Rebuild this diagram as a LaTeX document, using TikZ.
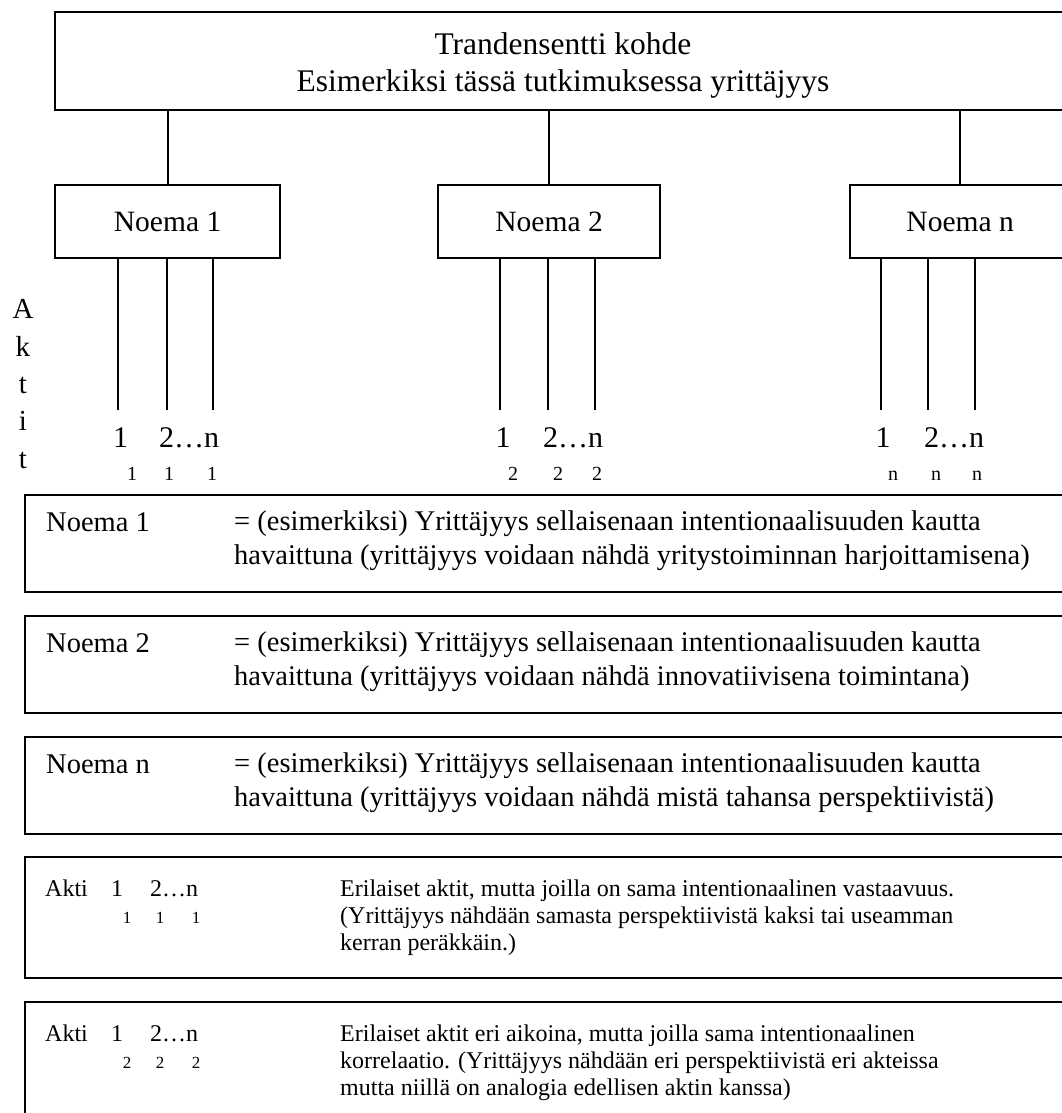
\documentclass[tikz,border=0pt]{standalone}
\usepackage{fontspec}
\setmainfont{Liberation Serif}
\newcommand\setfs[2]{\fontsize{#1}{#2}\selectfont}
\begin{document}
\begin{tikzpicture}[x=1pt,y=-1pt,
  bx/.style={draw, line width=2.2pt, rectangle, inner sep=0pt, anchor=north west},
  ln/.style={line width=2pt},
  tl/.style={inner sep=0pt, anchor=base west},
  tc/.style={inner sep=0pt, anchor=base},
  tnw/.style={inner sep=0pt, anchor=north west, align=left},
  big/.style={font=\setfs{31.5}{37}},
  mid/.style={font=\setfs{29.5}{35}},
  lab/.style={font=\setfs{30}{36}},
  sub/.style={font=\setfs{20}{24}},
  desc/.style={font=\setfs{28.5}{34}},
  akt/.style={font=\setfs{24}{27}},
  asub/.style={font=\setfs{17}{20}},
]
\useasboundingbox (0,0) rectangle (1062,1113);
\fill[white] (0,0) rectangle (1062,1113);

% top box
\node[bx, minimum width=1018pt, minimum height=98pt] (top) at (54,11) {};
\node[big, inner sep=0pt, align=center] (toptext) at (563,65) {Trandensentti kohde\\Esimerkiksi tässä tutkimuksessa yrittäjyys};

% noema boxes
\node[bx, mid, minimum width=225pt, minimum height=73pt] (n1) at (54,184) {Noema 1};
\node[bx, mid, minimum width=222pt, minimum height=73pt] (n2) at (437,184) {Noema 2};
\node[bx, mid, minimum width=220pt, minimum height=73pt] (nn) at (849,184) {Noema n};

\draw[ln] (top.south -| n1.north) -- (n1.north);
\draw[ln] (top.south -| n2.north) -- (n2.north);
\draw[ln] (top.south -| nn.north) -- (nn.north);

% act lines
\coordinate (e11) at (118,410);
\coordinate (e12) at (166.5,410);
\coordinate (e13) at (213,410);
\coordinate (e21) at (500,410);
\coordinate (e22) at (548,410);
\coordinate (e23) at (595,410);
\coordinate (e31) at (881,410);
\coordinate (e32) at (928,410);
\coordinate (e33) at (975,410);
\foreach \g/\b in {1/n1,2/n2,3/nn}{
  \foreach \i in {1,2,3}{
    \draw[ln] (\b.south -| e\g\i) -- (e\g\i);
  }
}

% act labels
\node[lab,tc] (l11) at (120.5,447) {1};
\node[lab,tl] (l12) at (159,447) {2…n};
\node[sub,tc] (s11) at (132,480) {1};
\node[sub,tc] (s12) at (169,480) {1};
\node[sub,tc] (s13) at (212,480) {1};

\node[lab,tc] (l21) at (503,447) {1};
\node[lab,tl] (l22) at (543,447) {2…n};
\node[sub,tc] (s21) at (513,480) {2};
\node[sub,tc] (s22) at (558,480) {2};
\node[sub,tc] (s23) at (597,480) {2};

\node[lab,tc] (l31) at (883,447) {1};
\node[lab,tl] (l32) at (924,447) {2…n};
\node[sub,tc] (s31) at (893,480) {n};
\node[sub,tc] (s32) at (936,480) {n};
\node[sub,tc] (s33) at (977,480) {n};

% vertical Aktit
\node[inner sep=0pt, anchor=north, align=center, font=\setfs{29}{37.3}] (aktit) at (23,299.5) {A\\k\\t\\i\\t};

% lower boxes
\node[bx, minimum width=1060pt, minimum height=97pt] (b1) at (24,494) {};
\node[bx, minimum width=1060pt, minimum height=97pt] (b2) at (24,615) {};
\node[bx, minimum width=1060pt, minimum height=97pt] (b3) at (24,736) {};
\node[bx, minimum width=1060pt, minimum height=121pt] (b4) at (24,856) {};
\node[bx, minimum width=1060pt, minimum height=150pt] (b5) at (24,1001) {};

\node[desc,tl] (b1a) at (46,531) {Noema 1};
\node[desc,tnw] (b1b) at (234,511) {= (esimerkiksi) Yrittäjyys sellaisenaan intentionaalisuuden kautta\\havaittuna (yrittäjyys voidaan nähdä yritystoiminnan harjoittamisena)};

\node[desc,tl] (b2a) at (46,652) {Noema 2};
\node[desc,tnw] (b2b) at (234,632) {= (esimerkiksi) Yrittäjyys sellaisenaan intentionaalisuuden kautta\\havaittuna (yrittäjyys voidaan nähdä innovatiivisena toimintana)};

\node[desc,tl] (b3a) at (46,773) {Noema n};
\node[desc,tnw] (b3b) at (234,753) {= (esimerkiksi) Yrittäjyys sellaisenaan intentionaalisuuden kautta\\havaittuna (yrittäjyys voidaan nähdä mistä tahansa perspektiivistä)};

\node[akt,tl] (b4a) at (45,896) {Akti};
\node[akt,tc] (b4b) at (117,896) {1};
\node[akt,tl] (b4c) at (150,896) {2…n};
\node[asub,tc] (b4s1) at (127,923) {1};
\node[asub,tc] (b4s2) at (160,923) {1};
\node[asub,tc] (b4s3) at (196,923) {1};
\node[akt,tnw] (b4d) at (340,879.6) {Erilaiset aktit, mutta joilla on sama intentionaalinen vastaavuus.\\(Yrittäjyys nähdään samasta perspektiivistä kaksi tai useamman\\kerran peräkkäin.)};

\node[akt,tl] (b5a) at (45,1041) {Akti};
\node[akt,tc] (b5b) at (117,1041) {1};
\node[akt,tl] (b5c) at (150,1041) {2…n};
\node[asub,tc] (b5s1) at (127,1068) {2};
\node[asub,tc] (b5s2) at (160,1068) {2};
\node[asub,tc] (b5s3) at (196,1068) {2};
\node[akt,tnw] (b5d) at (340,1024.6) {Erilaiset aktit eri aikoina, mutta joilla sama intentionaalinen\\korrelaatio. (Yrittäjyys nähdään eri perspektiivistä eri akteissa\\mutta niillä on analogia edellisen aktin kanssa)};
\end{tikzpicture}
\end{document}
